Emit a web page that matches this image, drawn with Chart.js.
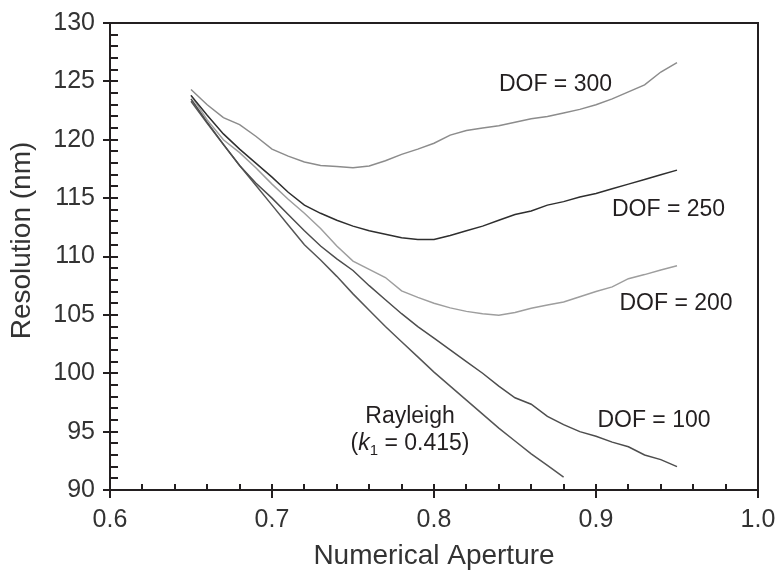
<!DOCTYPE html>
<html><head><meta charset="utf-8">
<script src="https://cdn.jsdelivr.net/npm/chart.js@4.4.0/dist/chart.umd.min.js"></script>
<style>html,body{margin:0;padding:0;background:#fff}#wrap{width:779px;height:577px}</style>
</head><body><div id="wrap"><canvas id="c" width="779" height="577"></canvas></div>
<script>
// ---- data ----
const numericalAperture = [0.65,0.66,0.67,0.68,0.69,0.70,0.71,0.72,0.73,0.74,0.75,0.76,0.77,0.78,0.79,0.80,0.81,0.82,0.83,0.84,0.85,0.86,0.87,0.88,0.89,0.90,0.91,0.92,0.93,0.94,0.95];
const dof300 = [124.3,123.0,121.9,121.3,120.3,119.2,118.6,118.1,117.8,117.7,117.6,117.75,118.2,118.75,119.2,119.7,120.4,120.8,121.0,121.2,121.5,121.8,122.0,122.3,122.6,123.0,123.5,124.1,124.7,125.8,126.6];
const dof250 = [123.8,122.1,120.5,119.2,118.0,116.8,115.5,114.4,113.7,113.1,112.6,112.2,111.9,111.6,111.45,111.45,111.8,112.2,112.6,113.1,113.6,113.9,114.4,114.7,115.1,115.4,115.8,116.2,116.6,117.0,117.4];
const dof200 = [123.8,121.7,120.0,118.9,117.6,116.2,114.9,113.7,112.4,110.9,109.6,108.9,108.2,107.05,106.5,106.0,105.6,105.3,105.1,104.97,105.2,105.56,105.85,106.1,106.55,107.0,107.4,108.1,108.45,108.85,109.2];
const dof100 = [123.5,121.5,119.6,117.8,116.3,115.0,113.6,112.2,110.9,109.8,108.8,107.5,106.3,105.1,104.0,103.0,102.0,101.0,100.0,98.9,97.9,97.35,96.3,95.6,95.0,94.6,94.1,93.7,93.0,92.6,92.0];
const rayleighNA = [0.65,0.66,0.67,0.68,0.69,0.70,0.71,0.72,0.73,0.74,0.75,0.76,0.77,0.78,0.79,0.80,0.81,0.82,0.83,0.84,0.85,0.86,0.87,0.88];
const rayleigh = [123.3,121.4,119.6,117.8,116.1,114.4,112.7,111.0,109.7,108.3,106.8,105.4,104.0,102.7,101.4,100.1,98.9,97.7,96.5,95.3,94.2,93.1,92.1,91.1];
const xTickValues = [0.6,0.7,0.8,0.9,1.0];
const yTickValues = [90,95,100,105,110,115,120,125,130];
const curveLabels = ['DOF = 300','DOF = 250','DOF = 200','DOF = 100','Rayleigh'];
const labelNA  = [0.875,0.9448,0.9494,0.9358,0.7852];
const labelRes = [124.86,114.15,106.1,96.14,96.42];
const kLabel = {x:0.7852, y:94.14, sym:'k', sub:'1', rest:' = 0.415)'};
const yTitle = 'Resolution (nm)';

const FONT = '"Liberation Sans", Arial, Helvetica, sans-serif';
const INK = '#231f20';

function pts(xs, ys){ return xs.map((v,i)=>({x:v, y:ys[i]})); }

const frame = {
  id:'frame',
  afterDatasetsDraw(chart){
    const {ctx, chartArea:a, scales:{x,y}} = chart;
    ctx.save();
    ctx.strokeStyle = INK; ctx.lineWidth = 2; ctx.lineCap='square';
    ctx.beginPath();
    ctx.moveTo(a.left,a.top); ctx.lineTo(a.right,a.top); ctx.lineTo(a.right,a.bottom);
    ctx.lineTo(a.left,a.bottom); ctx.closePath(); ctx.stroke();
    ctx.lineCap='butt';
    ctx.beginPath();
    for(let i=0;i<xTickValues.length;i++){
      const p = Math.round(x.getPixelForValue(xTickValues[i]));
      ctx.moveTo(p,a.bottom+8); ctx.lineTo(p,a.bottom-6);
      if(i<xTickValues.length-1){
        const step=(xTickValues[i+1]-xTickValues[i])/5;
        for(let k=1;k<5;k++){
          const q=Math.round(x.getPixelForValue(xTickValues[i]+k*step));
          ctx.moveTo(q,a.bottom); ctx.lineTo(q,a.bottom-6);
        }
      }
    }
    for(let i=0;i<yTickValues.length;i++){
      const p = Math.round(y.getPixelForValue(yTickValues[i]));
      ctx.moveTo(a.left-7,p); ctx.lineTo(a.left+8,p);
      if(i<yTickValues.length-1){
        const step=(yTickValues[i+1]-yTickValues[i])/5;
        for(let k=1;k<5;k++){
          const q=Math.round(y.getPixelForValue(yTickValues[i]+k*step));
          ctx.moveTo(a.left,q); ctx.lineTo(a.left+8,q);
        }
      }
    }
    ctx.stroke();
    // curve labels
    ctx.fillStyle = INK; ctx.font = '23px '+FONT;
    ctx.textAlign='center'; ctx.textBaseline='alphabetic';
    const cap = 0.716*23;
    for(let i=0;i<curveLabels.length;i++){
      ctx.fillText(curveLabels[i], x.getPixelForValue(labelNA[i]), y.getPixelForValue(labelRes[i])+cap/2);
    }
    // (k1 = 0.415)
    const cx = x.getPixelForValue(kLabel.x), cy = y.getPixelForValue(kLabel.y)+cap/2;
    ctx.textAlign='left';
    const fN='23px '+FONT, fI='italic 23px '+FONT, fS='15px '+FONT;
    ctx.font=fN; const w1=ctx.measureText('(').width, w4=ctx.measureText(kLabel.rest).width;
    ctx.font=fI; const w2=ctx.measureText(kLabel.sym).width;
    ctx.font=fS; const w3=ctx.measureText(kLabel.sub).width;
    let sx = cx-(w1+w2+w3+w4)/2;
    ctx.font=fN; ctx.fillText('(',sx,cy); sx+=w1;
    ctx.font=fI; ctx.fillText(kLabel.sym,sx,cy); sx+=w2;
    ctx.font=fS; ctx.fillText(kLabel.sub,sx,cy+5); sx+=w3;
    ctx.font=fN; ctx.fillText(kLabel.rest,sx,cy);
    // y axis title
    ctx.save();
    ctx.translate(22, (a.top+a.bottom)/2 - 16);
    ctx.rotate(-Math.PI/2);
    ctx.fillStyle='#333'; ctx.font='28px '+FONT; ctx.textAlign='center'; ctx.textBaseline='middle';
    ctx.fillText(yTitle,0,0);
    ctx.restore();
    ctx.restore();
  }
};

function ds(label, data, color){
  return {label, data, borderColor:color, borderWidth:1.5, pointRadius:0, tension:0, fill:false};
}

new Chart(document.getElementById('c'), {
  type:'line',
  data:{datasets:[
    ds('DOF = 300', pts(numericalAperture,dof300), '#8c8c8c'),
    ds('DOF = 250', pts(numericalAperture,dof250), '#2e2e2e'),
    ds('DOF = 200', pts(numericalAperture,dof200), '#9e9e9e'),
    ds('DOF = 100', pts(numericalAperture,dof100), '#4d4d4d'),
    ds('Rayleigh', pts(rayleighNA,rayleigh), '#555555')
  ]},
  options:{
    responsive:false, animation:false, devicePixelRatio:1,
    layout:{padding:{top:23,right:21,left:0,bottom:0}},
    plugins:{legend:{display:false}, tooltip:{enabled:false}},
    scales:{
      x:{type:'linear', min:0.6, max:1.0,
        afterBuildTicks:s=>{s.ticks = xTickValues.map(v=>({value:v}));},
        afterFit:s=>{s.height=87; s.paddingLeft=0; s.paddingRight=0;},
        grid:{display:false, drawTicks:false}, border:{display:false},
        ticks:{padding:15, color:'#333', font:{family:FONT,size:25}, callback:v=>v.toFixed(1), maxRotation:0, autoSkip:false},
        title:{display:true, text:'Numerical Aperture', color:'#333', font:{family:FONT,size:28}, padding:{top:0,bottom:4}}
      },
      y:{type:'linear', min:90, max:130,
        afterBuildTicks:s=>{s.ticks = yTickValues.map(v=>({value:v}));},
        afterFit:s=>{s.width=110; s.paddingTop=0; s.paddingBottom=0;},
        grid:{display:false, drawTicks:false}, border:{display:false},
        ticks:{padding:15, color:'#333', font:{family:FONT,size:25}, autoSkip:false},
        title:{display:false}
      }
    }
  },
  plugins:[frame]
});
</script></body></html>
